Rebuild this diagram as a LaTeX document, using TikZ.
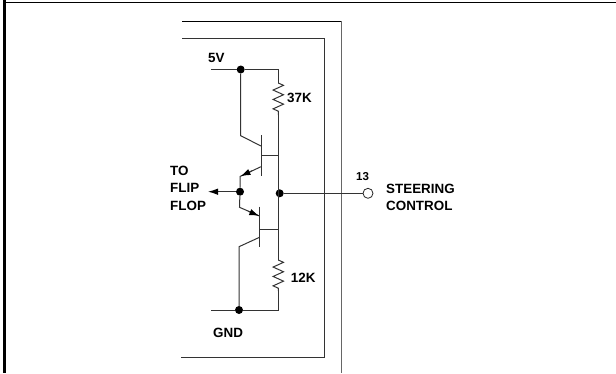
\documentclass[tikz,border=0pt]{standalone}
\usepackage{fontspec}
\setmainfont{Liberation Sans}
\usetikzlibrary{arrows.meta,decorations.pathmorphing}
\tikzset{
  wire/.style={line width=1pt,black!80},
  frameline/.style={line width=1pt,black!80},
  junction/.style={circle,fill=black,inner sep=0pt,minimum size=8pt},
  terminal/.style={circle,draw=black!85,fill=white,line width=0.8pt,inner sep=0pt,minimum size=10pt},
  lab/.style={font=\bfseries\fontsize{13.4}{15}\selectfont,inner sep=0pt,anchor=west},
  zigzag/.style={decorate,decoration={zigzag,segment length=9.4pt,amplitude=5.2pt}},
  tip/.style={-{Latex[length=10pt,width=6.5pt,black]}}
}
\begin{document}
\begin{tikzpicture}[x=1pt,y=-1pt]
    \useasboundingbox (0,0) rectangle (616,373);

    % Page edges
    \fill[black] (3,0) rectangle (6.3,373);
    \draw[line width=1.1pt,black] (6,2.4) -- (616,2.4);

    % Package outline
    \draw[line width=1pt,black] (182,21.5) -- (341.5,21.5);
    \draw[line width=1.3pt,black!60] (341.5,21) -- (341.5,373);
    \draw[frameline] (182,38) -- (324.5,38) -- (324.5,357.5) -- (181,357.5);

    % Nodes
    \node[junction] (vcc) at (240.7,69.5) {};
    \node[junction] (base) at (240,191.7) {};
    \node[junction] (mid) at (279.7,193.3) {};
    \node[junction] (gnd) at (239,310) {};
    \node[terminal] (pin) at (368,193.3) {};
    \coordinate (vccl) at (211,69.5);
    \coordinate (vccr) at (278.3,69.5);
    \coordinate (gndl) at (211,310);
    \coordinate (gndr) at (278.3,310);
    \coordinate (flip) at (208,191.7);

    % Labels
    \node[lab] (v5) at (208,58) {5V};
    \node[lab] (r37) at (287,97.5) {37K};
    \node[lab] (r12) at (290.7,278) {12K};
    \node[lab] (to) at (170,170.7) {TO};
    \node[lab] (fl) at (170,188) {FLIP};
    \node[lab] (fp) at (170,205.7) {FLOP};
    \node[lab] (gn) at (213,332.7) {GND};
    \node[lab,font=\bfseries\fontsize{11.5}{13}\selectfont] (n13) at (356,176.7) {13};
    \node[lab] (st) at (386,188.7) {STEERING};
    \node[lab] (ct) at (386,206) {CONTROL};

    % Supply rails
    \draw[wire] (vccl) -- (vcc) -- (vccr) -- (278.3,83);
    \draw[wire,zigzag] (278.3,83) -- (278.3,115);
    \draw[wire] (278.3,115) -- (278.3,260);
    \draw[wire,zigzag] (278.3,260) -- (278.3,291);
    \draw[wire] (278.3,291) -- (gndr) -- (gnd) -- (gndl);
    \draw[wire] (mid) -- (pin);

    % Upper transistor
    \draw[wire] (vcc) -- (240.7,135.7) -- (261,146);
    \draw[wire] (261,135) -- (261,176);
    \draw[wire] (261,155.7) -- (278.3,155.7);
    \draw[wire] (261,166.7) -- (240,176.5) -- (base);
    \draw[wire,tip] (252,170.8) -- (240.5,176.3);

    % Lower transistor
    \draw[wire] (base) -- (239.5,207.3) -- (259.5,216);
    \draw[wire] (259.5,206.7) -- (259.5,247);
    \draw[wire] (259.5,229) -- (278.3,229);
    \draw[wire] (259.5,237.3) -- (239,246.7) -- (gnd);
    \draw[wire,tip] (248,211.2) -- (259.3,216);

    % Output
    \draw[wire,tip] (base) -- (flip);
\end{tikzpicture}
\end{document}
